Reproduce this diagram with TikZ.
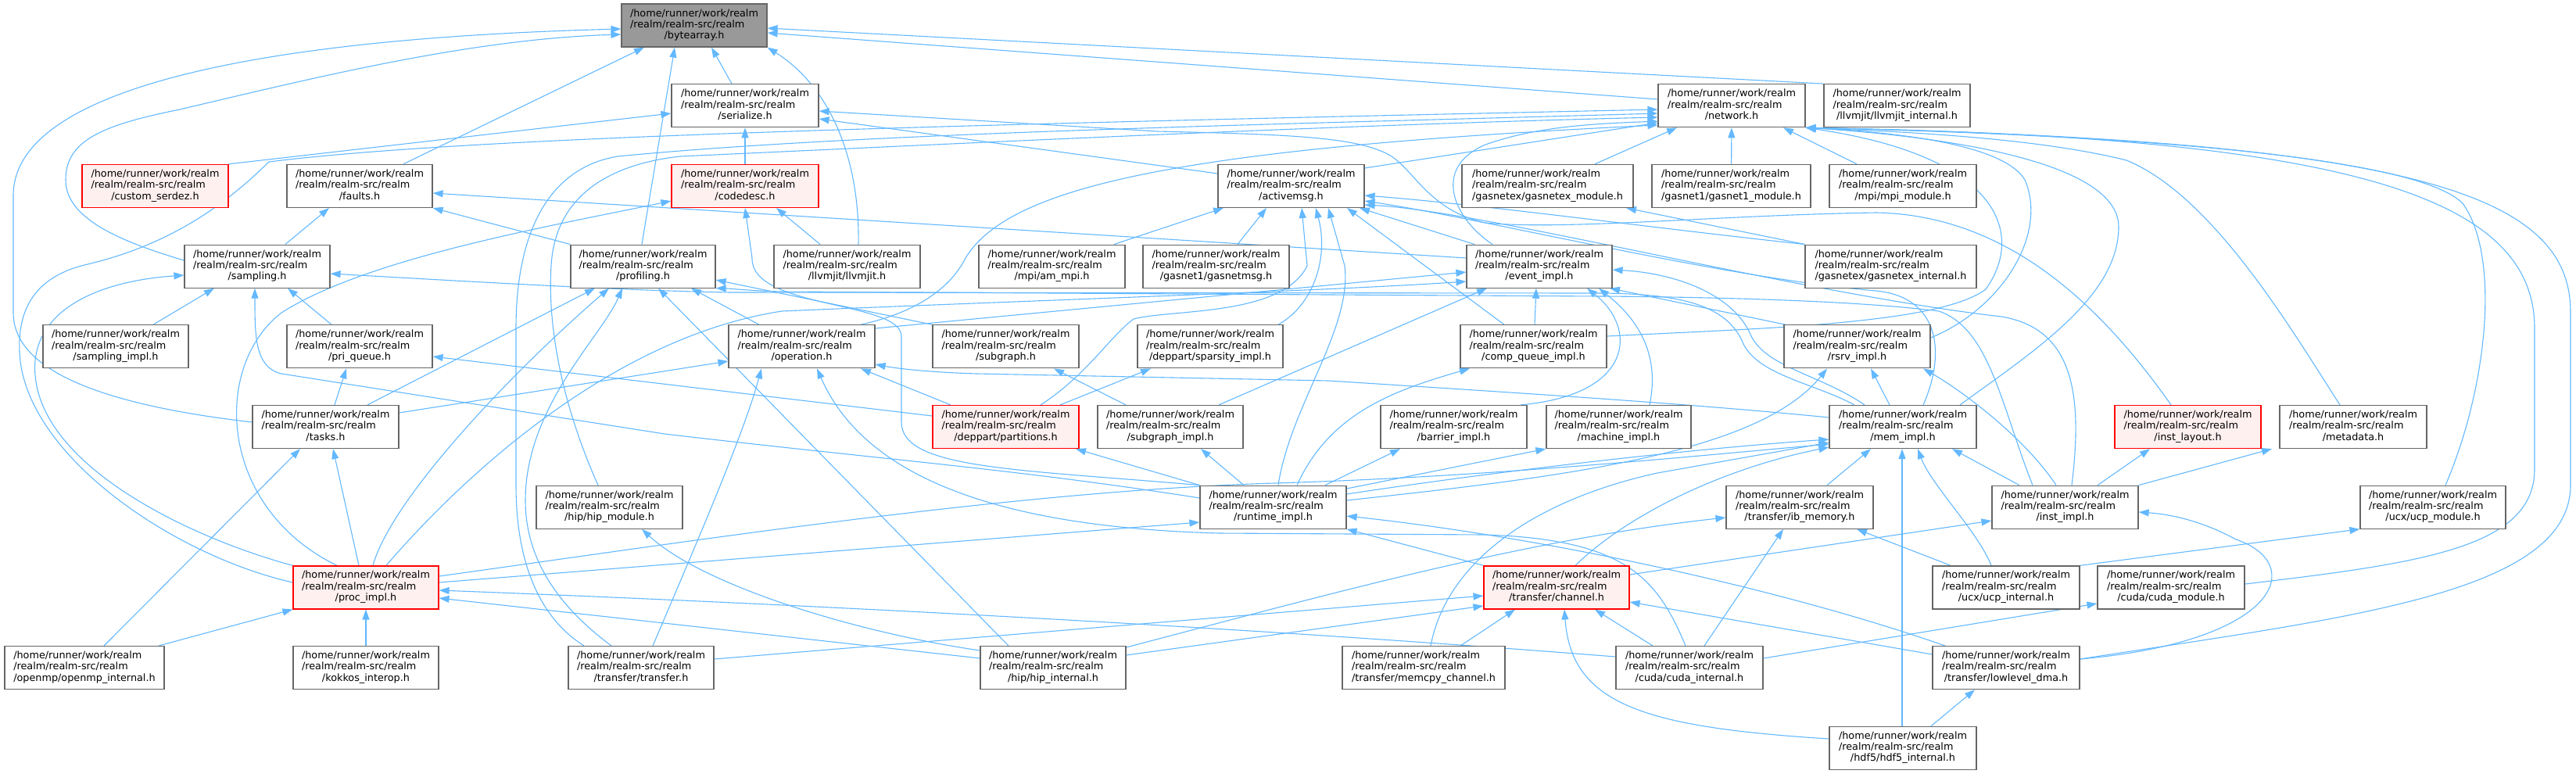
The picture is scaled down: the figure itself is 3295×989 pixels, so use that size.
\documentclass[tikz,border=0pt]{standalone}
\usepackage{fontspec}
\setmainfont{DejaVu Sans}
\usetikzlibrary{arrows.meta}
\definecolor{edgeblue}{HTML}{63B8FF}
\definecolor{boxgray}{HTML}{666666}
\definecolor{redfill}{HTML}{FFF0F0}
\definecolor{grayfill}{HTML}{999999}
\newcommand{\ftxt}[1]{\begin{tabular}{@{}l@{}}/home/runner/work/realm\\/realm/realm-src/realm\\\multicolumn{1}{@{}c@{}}{#1}\end{tabular}}
\pgfdeclarelayer{bg}
\pgfsetlayers{bg,main}
\begin{document}
\begin{tikzpicture}[x=1pt,y=-1pt,
  box/.style={draw=boxgray, line width=1.2pt, fill=white, minimum height=55pt, inner sep=0pt, font=\fontsize{12.8}{14.3}\selectfont, text=black},
  redbox/.style={box, draw=red, fill=redfill},
  graybox/.style={box, fill=grayfill},
  e/.style={draw=edgeblue, line width=1.1pt, -{Triangle[length=13pt,width=9pt]}}]
\useasboundingbox (0,0) rectangle (3295,989);
% row 0
\node[graybox, minimum width=186pt] (bytearray) at (888,32.5) {\ftxt{/bytearray.h}};
% row 1
\node[box, minimum width=188pt] (serialize) at (953,135.2) {\ftxt{/serialize.h}};
\node[box, minimum width=188pt] (network) at (2215,135.2) {\ftxt{/network.h}};
\node[box, minimum width=187pt] (llvmint) at (2426.5,135.2) {\ftxt{/llvmjit/llvmjit\_internal.h}};
% row 2
\node[redbox, minimum width=187pt] (customserdez) at (198.5,237.9) {\ftxt{/custom\_serdez.h}};
\node[box, minimum width=186pt] (faults) at (460,237.9) {\ftxt{/faults.h}};
\node[redbox, minimum width=188pt] (codedesc) at (953,237.9) {\ftxt{/codedesc.h}};
\node[box, minimum width=187pt] (activemsg) at (1651.5,237.9) {\ftxt{/activemsg.h}};
\node[box, minimum width=219pt] (gexmod) at (1979.5,237.9) {\ftxt{/gasnetex/gasnetex\_module.h}};
\node[box, minimum width=203pt] (gnonemod) at (2214.5,237.9) {\ftxt{/gasnet1/gasnet1\_module.h}};
\node[box, minimum width=188pt] (mpimod) at (2434,237.9) {\ftxt{/mpi/mpi\_module.h}};
% row 3
\node[box, minimum width=186pt] (sampling) at (329,340.6) {\ftxt{/sampling.h}};
\node[box, minimum width=185pt] (profiling) at (822.5,340.6) {\ftxt{/profiling.h}};
\node[box, minimum width=187pt] (llvmjit) at (1083.5,340.6) {\ftxt{/llvmjit/llvmjit.h}};
\node[box, minimum width=187pt] (ammpi) at (1345.5,340.6) {\ftxt{/mpi/am\_mpi.h}};
\node[box, minimum width=187pt] (gasnetmsg) at (1555.5,340.6) {\ftxt{/gasnet1/gasnetmsg.h}};
\node[box, minimum width=186pt] (eventimpl) at (1969,340.6) {\ftxt{/event\_impl.h}};
\node[box, minimum width=219pt] (gexint) at (2418.5,340.6) {\ftxt{/gasnetex/gasnetex\_internal.h}};
% row 4
\node[box, minimum width=186pt] (samplingimpl) at (148,443.3) {\ftxt{/sampling\_impl.h}};
\node[box, minimum width=186pt] (priqueue) at (460,443.3) {\ftxt{/pri\_queue.h}};
\node[box, minimum width=187pt] (operation) at (1025.5,443.3) {\ftxt{/operation.h}};
\node[box, minimum width=187pt] (subgraph) at (1286.5,443.3) {\ftxt{/subgraph.h}};
\node[box, minimum width=186pt] (sparsity) at (1548,443.3) {\ftxt{/deppart/sparsity\_impl.h}};
\node[box, minimum width=187pt] (compqueue) at (1961.5,443.3) {\ftxt{/comp\_queue\_impl.h}};
\node[box, minimum width=187pt] (rsrv) at (2375.5,443.3) {\ftxt{/rsrv\_impl.h}};
% row 5
\node[box, minimum width=187pt] (tasks) at (416.5,546) {\ftxt{/tasks.h}};
\node[redbox, minimum width=187pt] (partitions) at (1286.5,546) {\ftxt{/deppart/partitions.h}};
\node[box, minimum width=186pt] (subgraphimpl) at (1497,546) {\ftxt{/subgraph\_impl.h}};
\node[box, minimum width=187pt] (barrier) at (1859.5,546) {\ftxt{/barrier\_impl.h}};
\node[box, minimum width=185pt] (machine) at (2070.5,546) {\ftxt{/machine\_impl.h}};
\node[box, minimum width=188pt] (memimpl) at (2434,546) {\ftxt{/mem\_impl.h}};
\node[redbox, minimum width=187pt] (instlayout) at (2798.5,546) {\ftxt{/inst\_layout.h}};
\node[box, minimum width=188pt] (metadata) at (3010,546) {\ftxt{/metadata.h}};
% row 6
\node[box, minimum width=187pt] (hipmodule) at (779.5,648.7) {\ftxt{/hip/hip\_module.h}};
\node[box, minimum width=187pt] (runtime) at (1628.5,648.7) {\ftxt{/runtime\_impl.h}};
\node[box, minimum width=188pt] (ibmemory) at (2302,648.7) {\ftxt{/transfer/ib\_memory.h}};
\node[box, minimum width=187pt] (instimpl) at (2641.5,648.7) {\ftxt{/inst\_impl.h}};
\node[box, minimum width=186pt] (ucpmodule) at (3112,648.7) {\ftxt{/ucx/ucp\_module.h}};
% row 7
\node[redbox, minimum width=186pt] (procimpl) at (468,751.4) {\ftxt{/proc\_impl.h}};
\node[redbox, minimum width=186pt] (channel) at (1991,751.4) {\ftxt{/transfer/channel.h}};
\node[box, minimum width=188pt] (ucpinternal) at (2566,751.4) {\ftxt{/ucx/ucp\_internal.h}};
\node[box, minimum width=188pt] (cudamodule) at (2777,751.4) {\ftxt{/cuda/cuda\_module.h}};
% row 8
\node[box, minimum width=204pt] (openmp) at (108,854.1) {\ftxt{/openmp/openmp\_internal.h}};
\node[box, minimum width=186pt] (kokkos) at (468,854.1) {\ftxt{/kokkos\_interop.h}};
\node[box, minimum width=186pt] (transfer) at (820,854.1) {\ftxt{/transfer/transfer.h}};
\node[box, minimum width=186pt] (hipinternal) at (1347,854.1) {\ftxt{/hip/hip\_internal.h}};
\node[box, minimum width=208pt] (memcpy) at (1821,854.1) {\ftxt{/transfer/memcpy\_channel.h}};
\node[box, minimum width=188pt] (cudainternal) at (2161,854.1) {\ftxt{/cuda/cuda\_internal.h}};
\node[box, minimum width=188pt] (lowlevel) at (2566,854.1) {\ftxt{/transfer/lowlevel\_dma.h}};
% row 9
\node[box, minimum width=188pt] (hdf5) at (2434,956.8) {\ftxt{/hdf5/hdf5\_internal.h}};

\begin{pgfonlayer}{bg}
% bytearray
\draw[e] (serialize.north -| 936,0) -- (bytearray.south -| 910,0);
\draw[e] (faults.north -| 516,0) -- (bytearray.south -| 824,0);
\draw[e] (profiling.north -| 821,0) -- (bytearray.south -| 863,0);
\draw[e] (llvmjit.north -| 1098,0) .. controls (1100,200) and (1060,110) .. (bytearray.south east);
\draw[e] (network.west |- 0,127) -- (bytearray.east |- 0,42);
\draw[e] (llvmint.north west) -- (bytearray.east |- 0,36);
\draw[e] (sampling.west |- 0,333) .. controls (140,305) and (84,275) .. (84,230) .. controls (84,180) and (130,160) .. (230,140) .. controls (400,100) and (600,50) .. (bytearray.west |- 0,44);
\draw[e] (tasks.west |- 0,540) .. controls (150,520) and (17,480) .. (17,400) -- (17,250) .. controls (17,120) and (300,50) .. (bytearray.west |- 0,37);
% serialize
\draw[e] (customserdez.north east) -- (serialize.west |- 0,145);
\draw[e] (codedesc) -- (serialize);
\draw[e] (activemsg.west |- 0,222) -- (serialize.east |- 0,152);
\draw[e] (instlayout.north -| 2777,0) .. controls (2680,380) and (2560,275) .. (2400,272) .. controls (2200,275) and (2000,295) .. (1900,285) .. controls (1830,270) and (1810,220) .. (1780,200) .. controls (1740,175) and (1650,172) .. (1480,168) -- (serialize.east |- 0,142);
% faults, codedesc
\draw[e] (sampling.north -| 365,0) -- (faults.south -| 421,0);
\draw[e] (profiling.north west) -- (faults.south east);
\draw[e] (eventimpl.west |- 0,330) -- (faults.east |- 0,247);
\draw[e] (procimpl.north -| 431,0) .. controls (280,650) and (270,470) .. (360,400) .. controls (470,330) and (700,290) .. (codedesc.west |- 0,257);
\draw[e] (llvmjit.north -| 1049,0) -- (codedesc.south -| 993,0);
\draw[e] (runtime.north west) .. controls (1300,600) and (1153,600) .. (1153,540) -- (1153,430) .. controls (1153,385) and (960,395) .. (962,330) -- (codedesc.south -| 953,0);
% network
\draw[e] (gexmod.north -| 2040,0) -- (network.south -| 2145,0);
\draw[e] (gnonemod) -- (network);
\draw[e] (mpimod.north -| 2375,0) -- (network.south -| 2281,0);
\draw[e] (activemsg.east |- 0,215) -- (network.west |- 0,157);
\draw[e] (procimpl.west |- 0,745) .. controls (220,710) and (30,580) .. (25,450) .. controls (22,380) and (60,350) .. (112,338) .. controls (230,310) and (300,250) .. (344,207) .. controls (600,175) and (1200,160) .. (network.west |- 0,140);
\draw[e] (transfer.north -| 747,0) .. controls (690,790) and (660,720) .. (660,620) -- (660,420) .. controls (660,300) and (700,215) .. (790,200) .. controls (1100,170) and (1600,160) .. (network.west |- 0,145);
\draw[e] (hipmodule.north -| 765,0) .. controls (720,520) and (700,420) .. (705,340) .. controls (710,250) and (780,210) .. (870,200) .. controls (1200,185) and (1700,160) .. (network.west |- 0,150);
\draw[e] (operation.north -| 1101,0) .. controls (1170,400) and (1215,370) .. (1235,330) .. controls (1290,240) and (1500,190) .. (network.west |- 0,160);
\draw[e] (eventimpl.north -| 1909,0) .. controls (1860,280) and (1830,215) .. (1900,185) .. controls (1970,160) and (2050,158) .. (network.west |- 0,155);
\draw[e] (rsrv.east |- 0,432) .. controls (2560,395) and (2620,300) .. (2590,230) .. controls (2560,180) and (2400,168) .. (network.south east);
\draw[e] (memimpl.north -| 2507,0) .. controls (2600,450) and (2710,380) .. (2710,290) .. controls (2710,200) and (2450,172) .. (network.south east);
\draw[e] (metadata.north -| 2993,0) .. controls (2930,420) and (2830,250) .. (2720,205) .. controls (2600,175) and (2420,168) .. (network.south east);
\draw[e] (ucpmodule.north -| 3128,0) .. controls (3180,500) and (3200,330) .. (3150,260) .. controls (3080,190) and (2600,170) .. (network.south east);
\draw[e] (cudamodule.east |- 0,747) .. controls (3100,720) and (3242,700) .. (3242,600) -- (3242,420) .. controls (3242,250) and (3000,175) .. (network.south east);
\draw[e] (lowlevel.east |- 0,843) .. controls (3000,790) and (3288,760) .. (3288,620) -- (3288,400) .. controls (3288,250) and (3100,180) .. (network.south east);
\draw[e] (compqueue.east |- 0,430) .. controls (2250,420) and (2480,415) .. (2540,370) .. controls (2590,300) and (2560,200) .. (network.south east);
% activemsg
\draw[e] (ammpi.north -| 1425,0) -- (activemsg.south -| 1565,0);
\draw[e] (gasnetmsg.north -| 1583,0) -- (activemsg.south -| 1620,0);
\draw[e] (partitions.north -| 1331,0) .. controls (1390,480) and (1420,430) .. (1450,408) .. controls (1500,395) and (1640,405) .. (1672,340) -- (activemsg.south -| 1665,0);
\draw[e] (sparsity.north -| 1635,0) .. controls (1680,390) and (1700,330) .. (activemsg.south -| 1683,0);
\draw[e] (runtime.north -| 1635,0) .. controls (1650,520) and (1730,420) .. (1720,340) -- (activemsg.south -| 1699,0);
\draw[e] (compqueue.north -| 1924,0) -- (activemsg.south -| 1723,0);
\draw[e] (eventimpl.north -| 1886,0) -- (activemsg.south -| 1739,0);
\draw[e] (gexint.north west) .. controls (2100,290) and (1900,262) .. (activemsg.east |- 0,250);
\draw[e] (memimpl.north -| 2460,0) .. controls (2490,450) and (2480,380) .. (2400,372) .. controls (2200,355) and (1900,280) .. (activemsg.east |- 0,257);
\draw[e] (instimpl.north -| 2650,0) .. controls (2665,500) and (2650,420) .. (2560,405) .. controls (2300,375) and (1900,270) .. (activemsg.east |- 0,262);
\draw[e] (gexint.north west) -- (gexmod.south -| 2080,0);
% sampling
\draw[e] (samplingimpl.north -| 196,0) -- (sampling.south -| 274,0);
\draw[e] (priqueue.north -| 424,0) -- (sampling.south -| 368,0);
\draw[e] (runtime.west |- 0,637) .. controls (1300,600) and (1150,590) .. (850,555) -- (360,478) .. controls (326,470) and (326,430) .. (sampling.south -| 326,0);
\draw[e] (procimpl.north west) .. controls (250,690) and (55,600) .. (45,480) .. controls (38,400) and (120,360) .. (sampling.west |- 0,352);
\draw[e] (memimpl.north -| 2372,0) .. controls (2320,490) and (2250,480) .. (2230,440) .. controls (2210,390) and (2150,376) .. (2050,375) -- (935,374) .. controls (800,372) and (600,360) .. (sampling.east |- 0,350);
% profiling
\draw[e] (tasks.north -| 470,0) -- (profiling.south -| 761,0);
\draw[e] (procimpl.north -| 477,0) .. controls (500,640) and (650,480) .. (profiling.south -| 779,0);
\draw[e] (operation.north -| 971,0) -- (profiling.south -| 884,0);
\draw[e] (transfer.north -| 782,0) .. controls (720,780) and (672,720) .. (672,640) .. controls (672,520) and (770,430) .. (profiling.south -| 796,0);
\draw[e] (hipinternal.north -| 1290,0) -- (profiling.south -| 842,0);
\draw[e] (subgraph.north west) -- (profiling.east |- 0,358);
\draw[e] (instimpl.north -| 2600,0) .. controls (2560,520) and (2545,420) .. (2480,398) .. controls (2380,385) and (2200,380) .. (2050,379) -- (1000,373) .. controls (960,372) and (935,369) .. (profiling.south east);
% event_impl
\draw[e] (operation.east |- 0,420) -- (eventimpl.west |- 0,348);
\draw[e] (subgraphimpl.north -| 1559,0) -- (eventimpl.south -| 1902,0);
\draw[e] (compqueue.north -| 1963,0) -- (eventimpl.south -| 1965,0);
\draw[e] (barrier.north -| 1945,0) .. controls (2090,505) and (2095,420) .. (eventimpl.south -| 2030,0);
\draw[e] (machine.north -| 2110,0) .. controls (2120,470) and (2110,420) .. (eventimpl.south -| 2045,0);
\draw[e] (rsrv.north -| 2284,0) -- (eventimpl.south -| 2059,0);
\draw[e] (memimpl.north -| 2385,0) .. controls (2330,480) and (2260,470) .. (2240,430) .. controls (2220,380) and (2150,350) .. (eventimpl.east |- 0,345);
\draw[e] (procimpl.north -| 494,0) .. controls (600,600) and (790,430) .. (1000,398) .. controls (1300,385) and (1700,372) .. (eventimpl.west |- 0,360);
% pri_queue, operation
\draw[e] (tasks.north -| 428,0) -- (priqueue.south -| 443,0);
\draw[e] (partitions.west |- 0,532) -- (priqueue.east |- 0,456);
\draw[e] (tasks.east |- 0,528) -- (operation.west |- 0,462);
\draw[e] (partitions.north -| 1216,0) -- (operation.south -| 1101,0);
\draw[e] (transfer.north -| 835,0) .. controls (880,720) and (950,560) .. (operation.south -| 974,0);
\draw[e] (cudainternal.north -| 2156,0) .. controls (2120,740) and (2080,690) .. (1900,684) -- (1560,682) .. controls (1300,675) and (1110,620) .. (operation.south -| 1045,0);
\draw[e] (memimpl.west |- 0,534) .. controls (2150,515) and (1900,500) .. (1700,487) -- (1250,478) .. controls (1180,476) and (1140,470) .. (operation.east |- 0,466);
% subgraph, sparsity
\draw[e] (partitions.north -| 1356,0) -- (sparsity.south -| 1472,0);
\draw[e] (subgraphimpl.north -| 1440,0) -- (subgraph.south -| 1348,0);
% proc_impl, tasks
\draw[e] (openmp.north -| 203,0) -- (procimpl.south west);
\draw[e] (kokkos) -- (procimpl);
\draw[e] (cudainternal.west |- 0,840) .. controls (1500,795) and (900,768) .. (procimpl.east |- 0,755);
\draw[e] (hipinternal.west |- 0,842) -- (procimpl.east |- 0,765);
\draw[e] (openmp.north -| 133,0) -- (tasks.south -| 384,0);
\draw[e] (procimpl.north -| 459,0) -- (tasks.south -| 426,0);
% runtime_impl
\draw[e] (procimpl.east |- 0,745) -- (runtime.west |- 0,668);
\draw[e] (channel.north west) -- (runtime.south east);
\draw[e] (lowlevel.north -| 2488,0) .. controls (2300,760) and (2000,690) .. (runtime.east |- 0,660);
\draw[e] (runtime.north west) -- (partitions.south -| 1376,0);
\draw[e] (runtime.north -| 1591,0) -- (subgraphimpl.south -| 1536,0);
\draw[e] (runtime.north -| 1695,0) -- (barrier.south -| 1791,0);
\draw[e] (runtime.east |- 0,625) -- (machine.south west);
\draw[e] (runtime.north -| 1659,0) .. controls (1700,530) and (1780,500) .. (compqueue.south -| 1880,0);
\draw[e] (runtime.east |- 0,632) .. controls (1900,605) and (2150,575) .. (memimpl.west |- 0,562);
\draw[e] (runtime.east |- 0,640) .. controls (2000,610) and (2250,580) .. (rsrv.south -| 2337,0);
% mem_impl, rsrv
\draw[e] (procimpl.east |- 0,737) .. controls (900,690) and (1300,628) .. (1630,618) .. controls (1900,610) and (2150,585) .. (memimpl.west |- 0,568);
\draw[e] (memimpl.north -| 2417,0) -- (rsrv.south -| 2393,0);
\draw[e] (instimpl.north -| 2630,0) .. controls (2590,560) and (2510,500) .. (rsrv.south -| 2460,0);
\draw[e] (ibmemory.north -| 2337,0) -- (memimpl.south -| 2393,0);
\draw[e] (hdf5.north -| 2433,0) -- (memimpl.south -| 2433,0);
\draw[e] (ucpinternal.north -| 2547,0) .. controls (2530,680) and (2470,620) .. (memimpl.south -| 2453,0);
\draw[e] (instimpl.north -| 2583,0) -- (memimpl.south -| 2497,0);
\draw[e] (channel.north -| 2015,0) .. controls (2080,660) and (2200,600) .. (memimpl.west |- 0,572);
\draw[e] (memcpy.north -| 1830,0) .. controls (1850,720) and (1960,640) .. (2120,605) -- (memimpl.west |- 0,566);
% inst_impl etc
\draw[e] (instimpl.north -| 2683,0) -- (instlayout.south -| 2750,0);
\draw[e] (instimpl.north east) -- (metadata.south -| 2906,0);
\draw[e] (channel.east |- 0,735) -- (instimpl.west |- 0,666);
\draw[e] (lowlevel.east |- 0,843) .. controls (2920,820) and (2950,720) .. (2860,690) .. controls (2820,668) and (2780,658) .. (instimpl.east |- 0,655);
\draw[e] (ucpinternal.north -| 2495,0) -- (ibmemory.south -| 2375,0);
\draw[e] (cudainternal.north -| 2180,0) -- (ibmemory.south -| 2281,0);
\draw[e] (ucpinternal.north east) -- (ucpmodule.south west);
\draw[e] (hipinternal.east |- 0,828) .. controls (1700,760) and (1950,690) .. (ibmemory.west |- 0,662);
% channel
\draw[e] (transfer.east |- 0,843) -- (channel.west |- 0,762);
\draw[e] (hipinternal.east |- 0,838) -- (channel.west |- 0,775);
\draw[e] (memcpy.north -| 1868,0) -- (channel.south -| 1938,0);
\draw[e] (hdf5.west |- 0,945) .. controls (2100,930) and (2010,900) .. (channel.south -| 2001,0);
\draw[e] (cudainternal.north -| 2114,0) -- (channel.south -| 2040,0);
\draw[e] (lowlevel.west |- 0,837) -- (channel.east |- 0,770);
% others
\draw[e] (hipinternal.west |- 0,832) .. controls (1100,810) and (900,750) .. (hipmodule.south -| 821,0);
\draw[e] (cudainternal.east |- 0,842) -- (cudamodule.west |- 0,772);
\draw[e] (hdf5.north -| 2470,0) -- (lowlevel.south -| 2526,0);
\end{pgfonlayer}
\end{tikzpicture}
\end{document}
